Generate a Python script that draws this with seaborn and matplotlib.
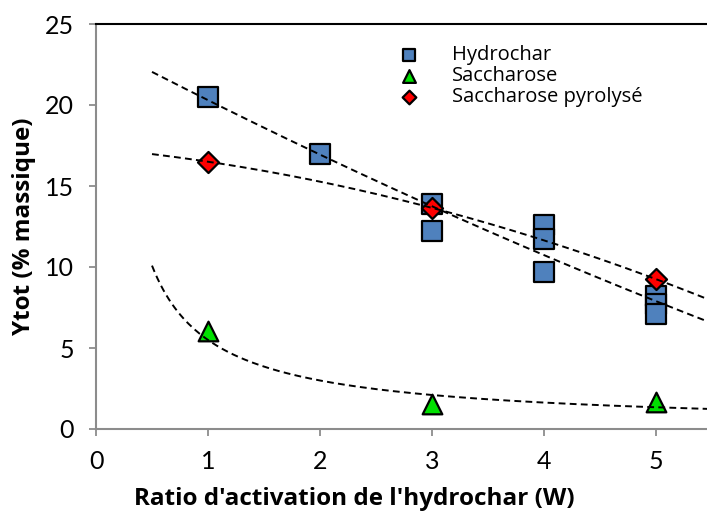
import numpy as np
import pandas as pd
import matplotlib
matplotlib.use("Agg")
import matplotlib.pyplot as plt
import seaborn as sns

# Measured yields against activation ratio
hydro_x = [1, 2, 3, 3, 4, 4, 4, 5, 5, 5]
hydro_y = [20.5, 17.0, 13.9, 12.2, 12.6, 11.7, 9.7, 8.2, 7.7, 7.1]
sac_x = [1, 3, 5]
sac_y = [6.05, 1.55, 1.65]
pyro_x = [1, 3, 5]
pyro_y = [16.5, 13.65, 9.25]

series_names = ["Hydrochar", "Saccharose", "Saccharose pyrolysé"]
x_ticks = [0, 1, 2, 3, 4, 5]
y_ticks = [0, 5, 10, 15, 20, 25]

sns.set_theme(style="white")
plt.rcParams["font.family"] = ["Open Sans", "DejaVu Sans"]
plt.rcParams["text.color"] = "black"
plt.rcParams["axes.labelcolor"] = "black"

df = pd.concat([
    pd.DataFrame({"x": hydro_x, "y": hydro_y, "s": series_names[0]}),
    pd.DataFrame({"x": sac_x, "y": sac_y, "s": series_names[1]}),
    pd.DataFrame({"x": pyro_x, "y": pyro_y, "s": series_names[2]}),
])

fig = plt.figure(figsize=(7.07, 5.12), dpi=100)
ax = fig.add_axes([96 / 707, 83 / 512, (707 - 96) / 707, (429 - 24) / 512])

palette = {series_names[0]: "#4F81BD", series_names[1]: "#00E000", series_names[2]: "#FF0000"}
markers = {series_names[0]: "s", series_names[1]: "^", series_names[2]: "D"}
sizes = {series_names[0]: 200, series_names[1]: 200, series_names[2]: 115}

for name in series_names:
    sub = df[df["s"] == name]
    sns.scatterplot(data=sub, x="x", y="y", marker=markers[name], color=palette[name],
                    s=sizes[name], edgecolor="black", linewidth=1.6, ax=ax,
                    label=name, zorder=3)

# Trend lines, extended half a unit on both sides
xt = np.linspace(0.5, 5.5, 200)
hfit = np.polyfit(hydro_x, hydro_y, 2)
pfit = np.polyfit(pyro_x, pyro_y, 2)
sfit = np.polyfit(np.log(sac_x), np.log(sac_y), 1)
trend = pd.DataFrame({
    "x": np.concatenate([xt, xt, xt]),
    "y": np.concatenate([np.polyval(hfit, xt), np.polyval(pfit, xt),
                         np.exp(sfit[1]) * xt ** sfit[0]]),
    "t": ["h"] * len(xt) + ["p"] * len(xt) + ["s"] * len(xt),
})
for t in ["h", "p", "s"]:
    sub = trend[trend["t"] == t]
    sns.lineplot(data=sub, x="x", y="y", color="black", linewidth=1.4,
                 dashes=False, ax=ax, zorder=4, legend=False)
for line in ax.lines:
    line.set_dashes((3.5, 2.2))

ax.set_xlim(0, 5.455)
ax.set_ylim(0, 25)
ax.set_xticks(x_ticks)
ax.set_yticks(y_ticks)
ax.tick_params(axis="both", which="major", labelsize=18, length=5, width=1.3,
               color="#8C8C8C", labelcolor="black", direction="out",
               left=True, bottom=True)
ax.tick_params(axis="y", pad=11)
ax.tick_params(axis="x", pad=10)
for lbl in ax.get_xticklabels() + ax.get_yticklabels():
    lbl.set_family(["Lato", "DejaVu Sans"])
for side in ["left", "bottom"]:
    ax.spines[side].set_color("#8C8C8C")
    ax.spines[side].set_linewidth(1.5)
ax.spines["top"].set_color("black")
ax.spines["top"].set_linewidth(1.5)
ax.spines["right"].set_visible(False)

ax.set_xlabel("Ratio d'activation de l'hydrochar (W)", fontsize=17.5, fontweight="bold")
ax.set_ylabel("Ytot (% massique)", fontsize=17.5, fontweight="bold")
ax.xaxis.set_label_coords((354 - 96) / 611, -58 / 405)
ax.yaxis.set_label_coords(-60 / 611, 0.5)

leg = ax.legend(loc="upper left", bbox_to_anchor=(371 / 707, 1 - 27 / 512),
                bbox_transform=fig.transFigure, frameon=False, fontsize=14.5,
                handlelength=2.0, handletextpad=1.1, labelspacing=0.05,
                markerscale=0.65)
for txt in leg.get_texts():
    txt.set_color("black")

fig.savefig("out.png", dpi=100)
